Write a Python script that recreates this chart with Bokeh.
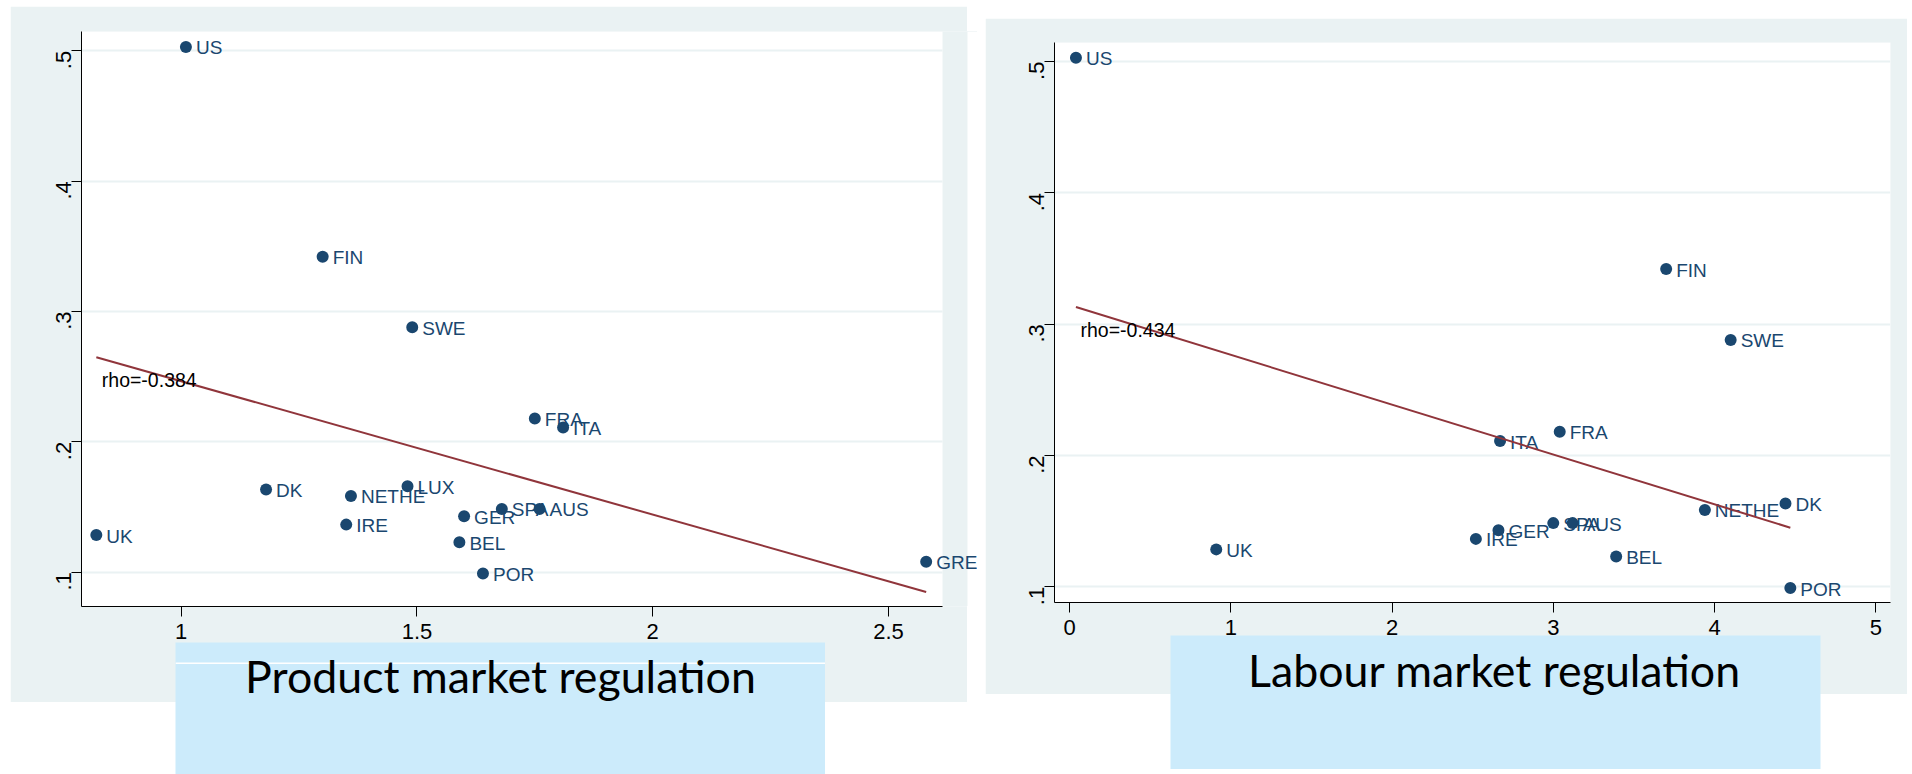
import numpy as np
from bokeh.plotting import figure
from bokeh.models import Range1d, FixedTicker, Label, ColumnDataSource, Spacer
from bokeh.layouts import row, column
from bokeh.embed import file_html
from bokeh.resources import INLINE
from bokeh.core.properties import value

# Country data: growth outcome and two regulation indices (None = not in sample)
countries = ["US", "FIN", "SWE", "FRA", "ITA", "DK", "NETHE", "LUX",
             "GER", "SPA", "AUS", "IRE", "BEL", "POR", "UK", "GRE"]
growth = [0.503, 0.342, 0.288, 0.218, 0.211, 0.1635, 0.1585, 0.166,
          0.143, 0.1485, 0.1485, 0.1365, 0.123, 0.099, 0.1285, 0.108]
product_reg = [1.01, 1.30, 1.49, 1.75, 1.81, 1.18, 1.36, 1.48,
               1.60, 1.68, 1.76, 1.35, 1.59, 1.64, 0.82, 2.58]
labour_reg = [0.04, 3.70, 4.10, 3.04, 2.67, 4.44, 3.94, None,
              2.66, 3.00, 3.12, 2.52, 3.39, 4.47, 0.91, None]

y_ticks = [0.1, 0.2, 0.3, 0.4, 0.5]
y_tick_labels = [".1", ".2", ".3", ".4", ".5"]
product_ticks = [1, 1.5, 2, 2.5]
product_tick_labels = ["1", "1.5", "2", "2.5"]
labour_ticks = [0, 1, 2, 3, 4, 5]
labour_tick_labels = ["0", "1", "2", "3", "4", "5"]

rho_product = "rho=-0.384"
rho_labour = "rho=-0.434"
title_product = "Product market regulation"
title_labour = "Labour market regulation"

NAVY = "#1A476F"
MAROON = "#90353B"
PANEL_BG = "#EAF2F3"
BOX_BLUE = "#CCEBFB"
STATA_FONT = "Liberation Sans"
SLIDE_FONT = "Lato"


def make_panel(xvals, rho_text, rho_pos, xticks, xtick_labels, geo):
    W, H = geo["size"]
    fl, ft, fw, fh = geo["frame"]
    x0, sx = geo["x_scale"]
    y0, sy = geo["y_scale"]
    fb = ft + fh
    plot_w = geo["plot_width"]          # white plot region inside the frame
    x1 = x0 + fw / sx
    y1 = y0 + fh / sy
    x_plot_end = x0 + plot_w / sx

    def to_data(cx, cy):
        return x0 + (cx - fl) / sx, y0 + (fb - cy) / sy

    p = figure(frame_width=fw, frame_height=fh, output_backend="svg",
               toolbar_location=None, title_location=None,
               x_range=Range1d(x0, x1), y_range=Range1d(y0, y1),
               min_border_left=fl, min_border_right=W - fl - fw,
               min_border_top=ft, min_border_bottom=H - ft - fh,
               background_fill_color=PANEL_BG, border_fill_color=PANEL_BG,
               outline_line_color=None)

    # white plot region, and the page gap beyond the graph region
    p.quad(left=[x0], right=[x_plot_end], bottom=[y0], top=[y1],
           fill_color="white", line_color=None, level="image")
    if geo.get("gap") is not None:
        g0, _ = to_data(geo["gap"], 0)
        p.quad(left=[g0], right=[x1], bottom=[y0], top=[y1],
               fill_color="white", line_color=None, level="image")

    for ax in (p.xaxis[0], p.yaxis[0]):
        ax.axis_line_color = "black"
        ax.axis_line_width = 1
        ax.major_tick_line_color = "black"
        ax.major_tick_out = 10
        ax.major_tick_in = 0
        ax.minor_tick_line_color = None
        ax.major_label_text_font = STATA_FONT
        ax.major_label_text_font_size = "22px"
        ax.major_label_text_color = "black"
    p.xaxis.ticker = FixedTicker(ticks=xticks)
    p.xaxis.bounds = (x0, x_plot_end)
    p.xaxis.major_label_overrides = {t: l for t, l in zip(xticks, xtick_labels)}
    p.xaxis.major_label_standoff = 7
    p.yaxis.ticker = FixedTicker(ticks=y_ticks)
    p.yaxis.major_label_overrides = {t: l for t, l in zip(y_ticks, y_tick_labels)}
    p.yaxis.major_label_orientation = np.pi / 2
    p.yaxis.major_label_standoff = 8

    p.xgrid.visible = False
    grid = p.ygrid[0]
    grid.ticker = FixedTicker(ticks=y_ticks)
    grid.grid_line_color = PANEL_BG
    grid.grid_line_width = 2
    if "cross_bounds" in grid.properties():
        grid.cross_bounds = (x0, x_plot_end)

    keep = [i for i, v in enumerate(xvals) if v is not None]
    src = ColumnDataSource(dict(
        x=[xvals[i] for i in keep],
        y=[growth[i] for i in keep],
        name=[countries[i] for i in keep],
    ))
    xs = np.array(src.data["x"], dtype=float)
    ys = np.array(src.data["y"], dtype=float)

    # country names at 3 o'clock, markers drawn over them
    p.text("x", "y", text="name", source=src, text_font=value(STATA_FONT),
           text_font_size="19px", text_color=NAVY, text_align="left",
           text_baseline="alphabetic", x_offset=10, y_offset=1)
    p.scatter("x", "y", source=src, size=12, fill_color=NAVY, line_color=None)

    # linear fit across the observed range
    slope, intercept = np.polyfit(xs, ys, 1)
    xf = np.array([xs.min(), xs.max()])
    p.line(xf, intercept + slope * xf, line_color=MAROON, line_width=2)

    rx, ry = to_data(*rho_pos)
    p.add_layout(Label(x=rx, y=ry, text=rho_text, text_font=STATA_FONT,
                       text_font_size="19.5px", text_color="black",
                       text_baseline="alphabetic", text_align="left"))
    return p


def caption_box(text, w, h, tx, ty, border_left, border_right, rule_y=None):
    c = figure(frame_width=w, frame_height=h, output_backend="svg",
               toolbar_location=None, title_location=None,
               x_axis_location=None, y_axis_location=None,
               x_range=Range1d(0, w), y_range=Range1d(h, 0),
               min_border_left=border_left, min_border_right=border_right,
               min_border_top=0, min_border_bottom=0,
               background_fill_color=BOX_BLUE, border_fill_alpha=0,
               outline_line_color=None)
    c.grid.visible = False
    if rule_y is not None:
        c.quad(left=[0], right=[w], top=[rule_y], bottom=[rule_y + 1.5],
               fill_color="white", line_color=None)
    c.text(x=[tx], y=[ty], text=[text], text_font=value(SLIDE_FONT),
           text_font_size="44.7px", text_color="black", text_align="center",
           text_baseline="alphabetic", y_offset=-21)
    return c


def white_patch(w, h, top, left):
    return Spacer(width=w, height=h,
                  styles={"margin-top": f"{top}px", "margin-left": f"{left}px",
                          "background-color": "white", "position": "relative",
                          "z-index": "4"})


# left panel: canvas at page (10, 6), 967 x 696; frame reaches the column edge
left_geo = dict(size=(967, 696), frame=(71, 25, 896, 575), plot_width=861, gap=957,
                x_scale=(1 - (180.7 - 81) / 471.5, 471.5),
                y_scale=(0.1 - (606 - 571.7) / 1303.5, 1303.5))
# right panel: canvas at page (985, 18), 922 x 676
right_geo = dict(size=(922, 676), frame=(69, 24, 836, 560), plot_width=836, gap=None,
                 x_scale=(-(1069 - 1054) / 161.26, 161.26),
                 y_scale=(0.1 - (602 - 586.3) / 1313.0, 1313.0))

p_left = make_panel(product_reg, rho_product, (101.3 - 10, 379 - 6), product_ticks,
                    product_tick_labels, left_geo)
p_left.margin = (6, 0, 0, 10)
cap_left = caption_box(title_product, 650, 132, 325, 54.7, 71, 0, rule_y=20)
cap_left.styles = {"margin-top": "-60px", "margin-left": "104px",
                   "position": "relative", "z-index": "5"}
left_col = column(p_left,
                  white_patch(10, 25, -696, 967),
                  white_patch(10, 96, 575, 967),
                  cap_left)

p_right = make_panel(labour_reg, rho_labour, (1080 - 985, 329 - 18), labour_ticks,
                     labour_tick_labels, right_geo)
p_right.margin = (18, 5, 0, 8)
cap_right = caption_box(title_labour, 650, 134, 324, 55, 69, 17)
cap_right.styles = {"margin-top": "-59px", "margin-left": "124px",
                    "position": "relative", "z-index": "5"}
right_col = column(p_right, cap_right)

layout = row(left_col, right_col)
open("out.html", "w").write(file_html(layout, INLINE))
